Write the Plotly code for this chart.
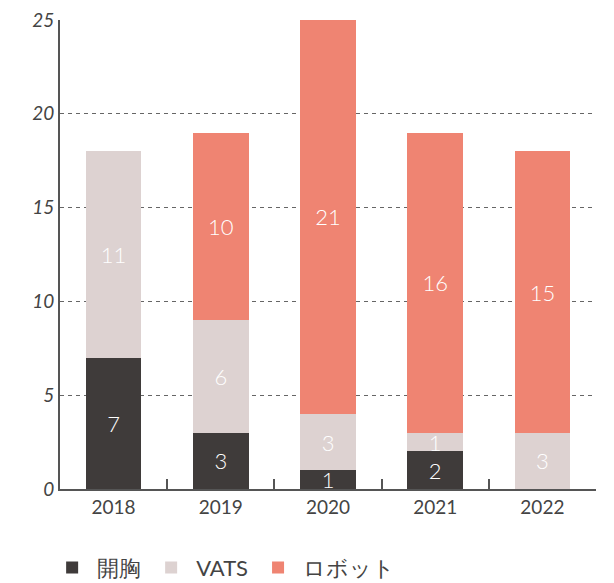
import plotly.graph_objects as go

years = ["2018", "2019", "2020", "2021", "2022"]
open_chest = [7, 3, 1, 2, 0]
vats = [11, 6, 3, 1, 3]
robot = [0, 10, 21, 16, 15]
series_names = ["開胸", "VATS", "ロボット"]
colors = ["#3f3b3a", "#ddd2d1", "#ef8472"]
y_ticks = [0, 5, 10, 15, 20, 25]

fig = go.Figure()
for name, vals, col in zip(series_names, [open_chest, vats, robot], colors):
    fig.add_trace(go.Bar(
        x=years, y=vals, name=name, marker=dict(color=col, line=dict(width=0)),
        text=[str(v) if v else "" for v in vals],
        textposition="inside", insidetextanchor="middle", textangle=0,
        textfont=dict(color="white", size=22, family="Lato", weight=300),
        constraintext="none",
    ))

fig.update_layout(
    barmode="stack", bargap=0.48,
    width=614, height=583,
    margin=dict(l=60, r=18, t=20, b=94, autoexpand=False),
    plot_bgcolor="white", paper_bgcolor="white",
    font=dict(family="Lato", color="#444"),
    uniformtext=dict(minsize=22, mode="show"),
    legend=dict(orientation="h", x=-0.024, xanchor="left",
                y=-0.168, yanchor="middle",
                font=dict(size=22, color="#444"), traceorder="normal",
                itemwidth=40),
    showlegend=True,
)
fig.update_xaxes(
    showline=True, linecolor="#555", linewidth=2, automargin=False,
    ticks="inside", tickson="boundaries", ticklen=10, tickwidth=2, tickcolor="#555",
    tickfont=dict(size=19, color="#444"), showgrid=False,
)
fig.update_yaxes(
    range=[0, 25], tickvals=y_ticks, showline=True, linecolor="#555", linewidth=2,
    automargin=False,
    showgrid=True, gridcolor="#666", griddash="4px,4px", gridwidth=1,
    tickfont=dict(size=19, color="#444", style="italic"), zeroline=False, ticks="",
)
fig.write_html("out.html", post_script="document.body.style.margin='0';",
               config={"displayModeBar": False})
